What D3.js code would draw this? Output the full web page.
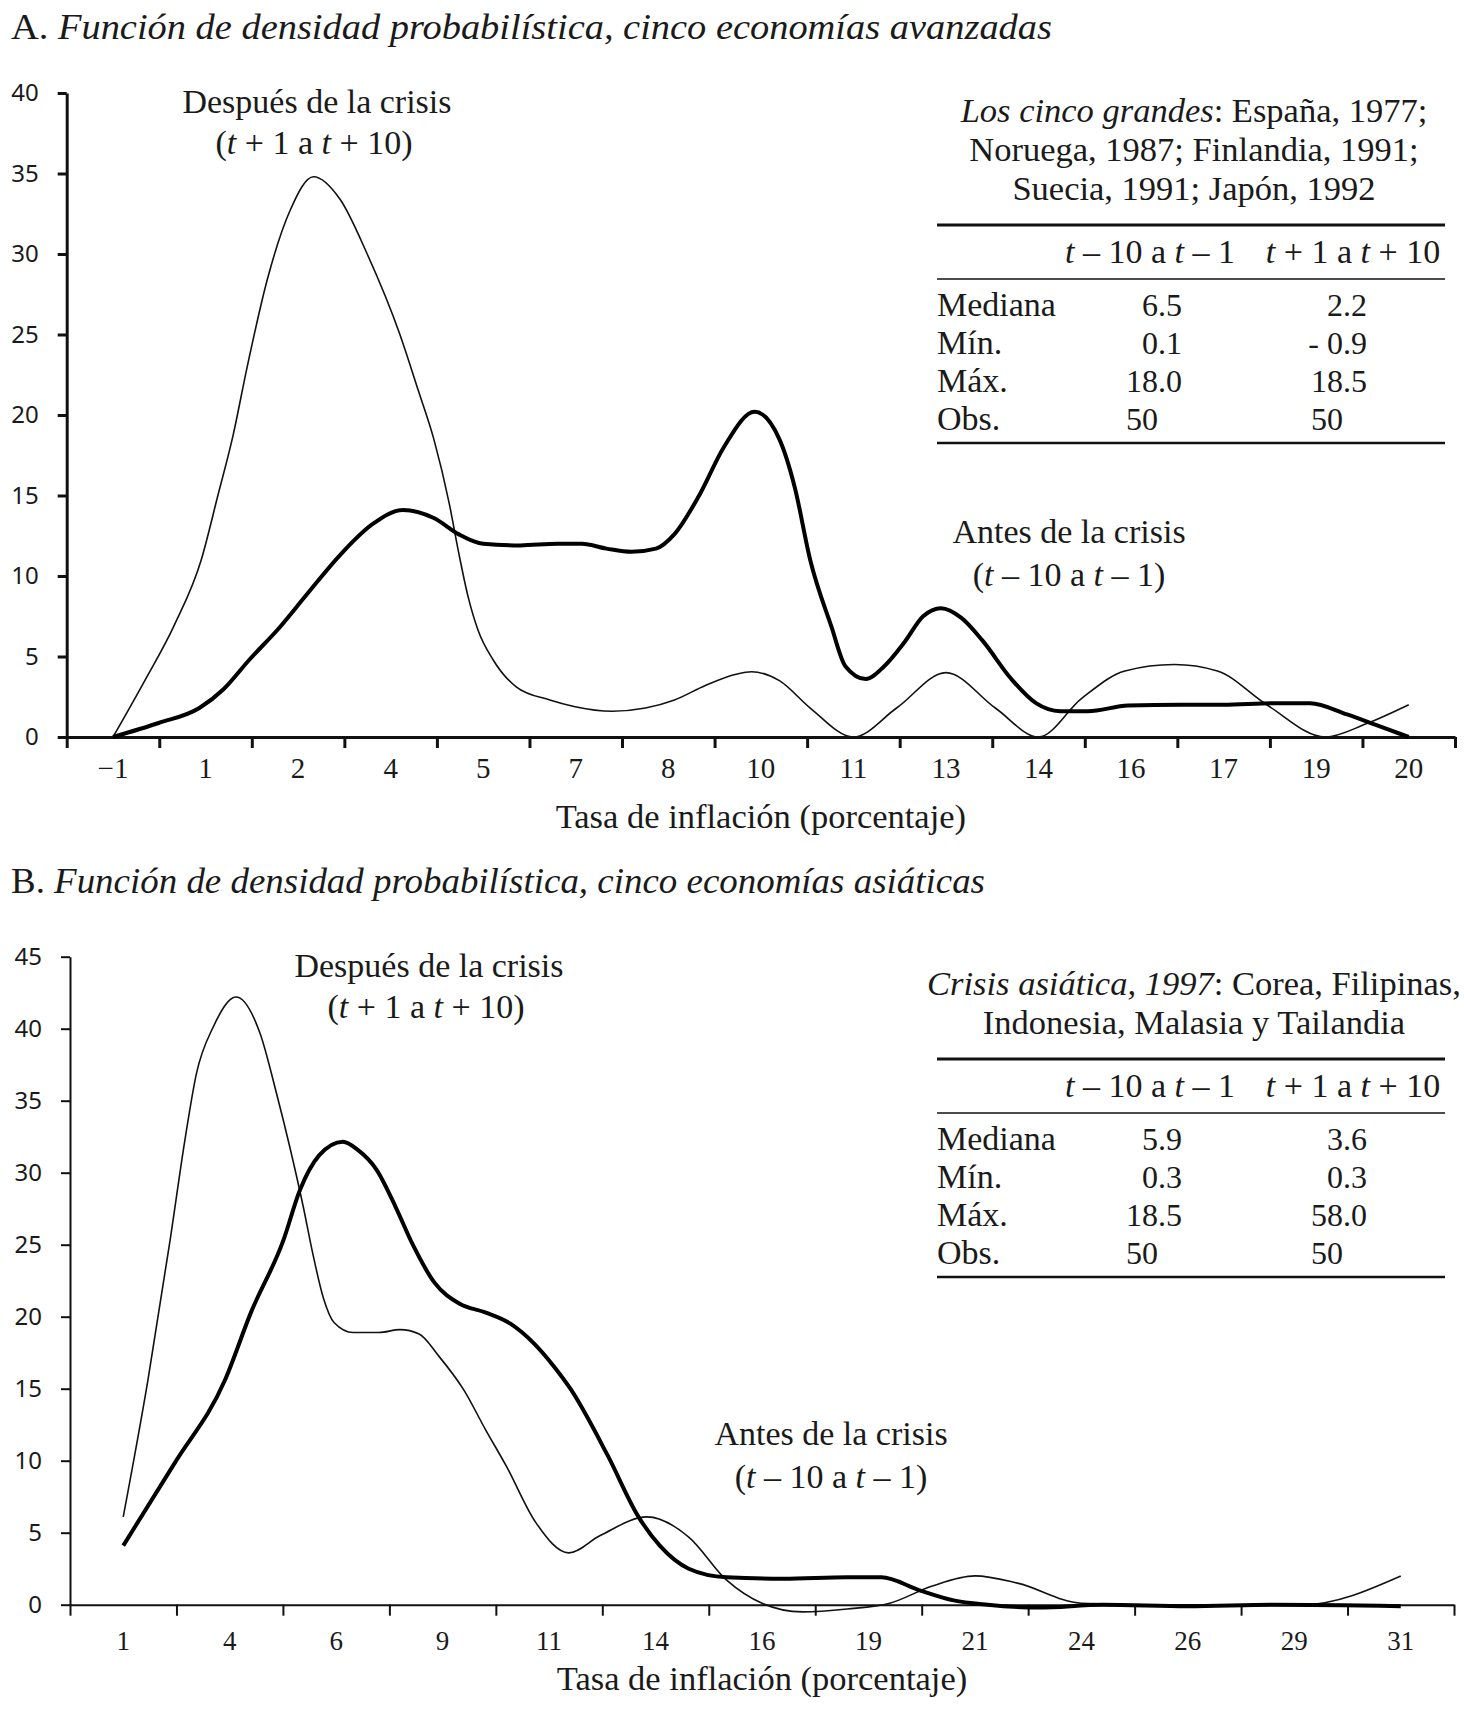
<!DOCTYPE html>
<html>
<head>
<meta charset="utf-8">
<script src="https://cdn.jsdelivr.net/npm/d3@7"></script>
<style>
  body { margin: 0; background: #fff; }
  svg text { font-family: "Liberation Serif", "DejaVu Serif", serif; fill: #1a1a1a; }
</style>
</head>
<body>
<div id="chart"></div>
<script>

// ---------------- data ----------------

// panel A: five advanced economies
let catsA = ["\u22121", "1", "2", "4", "5", "7", "8", "10", "11", "13", "14", "16", "17", "19", "20"];

// before the crisis (t-10 to t-1), thick line  [inflation, density]
let beforeA = [[-1, 0], [-0.26, 0.87], [0.4, 1.8], [0.8, 3.0], [1.21, 4.8], [1.7, 6.8], [2.13, 8.8],
	[2.68, 11.3], [3.2, 13.2], [3.7, 14.1], [4.2, 13.6], [4.6, 12.6], [5.0, 12.0], [5.6, 11.9],
	[6.2, 12.0], [6.6, 12.0], [7.0, 11.7], [7.4, 11.5], [7.8, 11.7], [8.1, 12.6], [8.5, 15.0],
	[8.9, 18.0], [9.4, 20.2], [9.8, 18.5], [10.05, 15.5], [10.3, 11.0], [10.64, 6.9], [10.87, 4.4],
	[11.2, 3.6], [11.5, 4.4], [11.83, 5.9], [12.13, 7.5], [12.42, 8.0], [12.75, 7.4], [13.09, 6.0],
	[13.56, 3.6], [13.96, 2.1], [14.35, 1.6], [14.8, 1.6], [15.45, 1.95], [16.3, 2.0], [17.0, 2.0],
	[17.8, 2.1], [18.4, 2.1], [19.0, 1.4], [19.5, 0.7], [20, 0]];

// after the crisis (t+1 to t+10), thin line
let afterA = [[-1, 0], [-0.5, 3.4], [0, 7.0], [0.43, 11.0], [0.7, 15.0], [0.95, 18.8], [1.17, 22.9],
	[1.5, 28.4], [1.87, 32.7], [2.25, 34.8], [2.68, 33.4], [3.12, 30.0], [3.65, 25.0], [3.95, 21.5],
	[4.2, 18.5], [4.45, 14.5], [4.6, 11.5], [4.75, 8.8], [4.92, 6.6], [5.16, 4.8], [5.54, 3.1],
	[6.08, 2.3], [6.47, 1.9], [7.09, 1.6], [7.63, 1.8], [8.1, 2.3], [8.6, 3.2], [9.1, 3.9],
	[9.35, 4.05], [9.8, 3.5], [10.3, 1.8], [11.0, 0], [11.7, 1.8], [12.5, 4.0], [13.3, 1.8],
	[14.0, 0], [14.7, 2.4], [15.4, 4.1], [16.2, 4.5], [16.9, 4.1], [17.7, 2.0], [18.65, 0],
	[19.3, 0.8], [20, 2.0]];

// panel B: five asian economies
let catsB = ["1", "4", "6", "9", "11", "14", "16", "19", "21", "24", "26", "29", "31"];

let beforeB = [[1, 4.1], [2.2, 9.8], [3.39, 15.6], [4.0, 20.3], [4.76, 25.3], [5.15, 28.8],
	[5.6, 31.2], [6.16, 32.15], [6.5, 31.6], [6.95, 30.2], [7.4, 27.6], [7.8, 25.0], [8.3, 22.4],
	[8.9, 20.9], [9.5, 20.3], [10.1, 19.5], [10.66, 18.1], [11.1, 16.6], [11.5, 15.0],
	[12.37, 10.4], [13.1, 6.1], [13.6, 4.1], [14.28, 2.5], [15.17, 1.9], [16.5, 1.8], [18.0, 1.9],
	[18.8, 1.9], [19.7, 1.0], [20.5, 0.3], [21.3, 0], [22.5, -0.2], [24, 0], [26, -0.1],
	[28, 0], [31, -0.1]];

let afterB = [[1, 6.1], [1.58, 15.6], [2.1, 25.3], [2.45, 32.3], [2.72, 36.9], [3.11, 40.1],
	[3.65, 42.2], [4.21, 39.7], [4.6, 35.5], [4.91, 31.8], [5.23, 27.6], [5.45, 24.4], [5.7, 21.3],
	[5.95, 19.6], [6.4, 18.9], [7.0, 18.9], [7.5, 19.1], [7.95, 18.8], [8.4, 17.3], [9.0, 14.9],
	[9.5, 12.2], [10.0, 9.6], [10.69, 5.7], [11.46, 3.6], [12.2, 4.8], [13.3, 6.1], [14.28, 4.7],
	[15.17, 1.7], [16.0, 0.1], [16.95, -0.5], [18.0, -0.3], [19.0, 0.1], [20.0, 1.3], [21.0, 2.0],
	[22.0, 1.5], [23.5, 0.1], [25, 0], [27, 0], [28.7, 0], [31, 2.0]];

// summary tables
let statRows = ["Mediana", "Mín.", "Máx.", "Obs."];
let statsBeforeA = ["6.5", "0.1", "18.0", "50"];
let statsAfterA = ["2.2", "- 0.9", "18.5", "50"];
let statsBeforeB = ["5.9", "0.3", "18.5", "50"];
let statsAfterB = ["3.6", "0.3", "58.0", "50"];


// ---------------- setup ----------------

let svg = d3.select("#chart").append("svg")
	.attr("width", 1464)
	.attr("height", 1715);

svg.append("rect").attr("width", 1464).attr("height", 1715).attr("fill", "#fff");

// text made of roman / italic pieces
function rich(g, x, y, parts, size, anchor) {
	let t = g.append("text")
		.attr("x", x).attr("y", y)
		.attr("font-size", size)
		.attr("text-anchor", anchor || "middle");
	parts.forEach(p => {
		t.append("tspan")
			.attr("font-style", p[1] ? "italic" : "normal")
			.text(p[0]);
	});
	return t;
}

let tAfter = [["(", 0], ["t", 1], [" + 1 a ", 0], ["t", 1], [" + 10)", 0]];
let tBefore = [["(", 0], ["t", 1], [" \u2013 10 a ", 0], ["t", 1], [" \u2013 1)", 0]];


function drawPanel(p) {

	let g = svg.append("g");

	let x = d3.scaleBand().domain(p.cats).range([p.left, p.right]);
	let xi = d3.scaleLinear().domain([0, p.cats.length]).range([p.left, p.right]);
	let half = x.bandwidth() / 2;
	let xv = d3.scaleLinear()
		.domain([p.vMin, p.vMax])
		.range([x(p.cats[0]) + half, x(p.cats[p.cats.length - 1]) + half]);
	let y = d3.scaleLinear().domain([0, p.yMax]).range([p.bottom, p.top]);

	// title
	rich(g, 11, p.titleY, [[p.titleLetter + " ", 0], [p.title, 1]], 35, "start")
		.attr("textLength", p.titleW)
		.attr("lengthAdjust", "spacingAndGlyphs");

	// x axis: ticks between categories
	let gx = g.append("g")
		.attr("transform", "translate(0," + p.bottom + ")")
		.call(d3.axisBottom(xi)
			.tickValues(d3.range(p.cats.length + 1))
			.tickFormat("")
			.tickSize(11)
			.tickSizeOuter(0));
	gx.selectAll("path, line").attr("stroke", "#111").attr("stroke-width", p.axisW);

	g.selectAll(".catLab")
		.data(p.cats)
		.join("text")
		.attr("class", "catLab")
		.attr("x", d => x(d) + half)
		.attr("y", p.bottom + p.catDy)
		.attr("text-anchor", "middle")
		.attr("font-size", p.catSize)
		.text(d => d);

	// y axis
	let gy = g.append("g")
		.attr("transform", "translate(" + p.left + ",0)")
		.call(d3.axisLeft(y)
			.tickValues(d3.range(0, p.yMax + 1, 5))
			.tickSize(9)
			.tickSizeOuter(0)
			.tickPadding(19));
	gy.selectAll("path, line").attr("stroke", "#111").attr("stroke-width", p.axisW);
	gy.selectAll("text")
		.style("font-family", "'Noto Sans', sans-serif")
		.attr("font-size", 24)
		.attr("fill", "#1a1a1a");

	g.append("text")
		.attr("x", (p.left + p.right) / 2)
		.attr("y", p.xTitleY)
		.attr("text-anchor", "middle")
		.attr("font-size", 34.5)
		.text("Tasa de inflación (porcentaje)");

	// density curves
	let line = d3.line()
		.x(d => xv(d[0]))
		.y(d => y(d[1]))
		.curve(d3.curveMonotoneX);

	g.append("path")
		.datum(p.after)
		.attr("d", line)
		.attr("fill", "none")
		.attr("stroke", "#111")
		.attr("stroke-width", 1.6);

	g.append("path")
		.datum(p.before)
		.attr("d", line)
		.attr("fill", "none")
		.attr("stroke", "#000")
		.attr("stroke-width", 4);

	// curve labels
	rich(g, p.afterLab[0], p.afterLab[1], [["Después de la crisis", 0]], 34);
	rich(g, p.afterLab[0] - 3, p.afterLab[1] + 41, tAfter, 34);
	rich(g, p.beforeLab[0], p.beforeLab[1], [["Antes de la crisis", 0]], 34);
	rich(g, p.beforeLab[0], p.beforeLab[1] + 43, tBefore, 34);

	// summary table
	let tb = g.append("g");
	p.caption.forEach((parts, i) => {
		rich(tb, 1194, p.tableTop + i * 39, parts, 34.5);
	});
	let r1 = p.tableTop + (p.caption.length - 1) * 39 + 25;
	let tl = 937, tr = 1445;
	tb.append("line").attr("x1", tl).attr("x2", tr).attr("y1", r1).attr("y2", r1)
		.attr("stroke", "#111").attr("stroke-width", 3);
	rich(tb, 1150, r1 + 38, [["t", 1], [" \u2013 10 a ", 0], ["t", 1], [" \u2013 1", 0]], 34);
	rich(tb, 1353, r1 + 38, [["t", 1], [" + 1 a ", 0], ["t", 1], [" + 10", 0]], 34);
	tb.append("line").attr("x1", tl).attr("x2", tr).attr("y1", r1 + 54).attr("y2", r1 + 54)
		.attr("stroke", "#111").attr("stroke-width", 1.3);

	let rowY = i => r1 + 91 + i * 38;
	tb.selectAll(".rowLab")
		.data(statRows)
		.join("text")
		.attr("x", tl)
		.attr("y", (d, i) => rowY(i))
		.attr("font-size", 34)
		.text(d => d);

	// numbers aligned on the decimal point
	[[p.statsBefore, 1158], [p.statsAfter, 1343]].forEach(col => {
		col[0].forEach((v, i) => {
			let parts = v.split(".");
			tb.append("text")
				.attr("x", col[1]).attr("y", rowY(i))
				.attr("text-anchor", "end")
				.attr("font-size", 32)
				.text(parts[0]);
			if (parts.length > 1) {
				tb.append("text")
					.attr("x", col[1]).attr("y", rowY(i))
					.attr("font-size", 32)
					.text("." + parts[1]);
			}
		});
	});
	let rb = rowY(3) + 13;
	tb.append("line").attr("x1", tl).attr("x2", tr).attr("y1", rb).attr("y2", rb)
		.attr("stroke", "#111").attr("stroke-width", 2.5);
}


drawPanel({
	titleLetter: "A.", title: "Función de densidad probabilística, cinco economías avanzadas",
	titleY: 39, titleW: 1041,
	cats: catsA, vMin: -1, vMax: 20, yMax: 40,
	left: 66.7, right: 1455, top: 93, bottom: 737, axisW: 3,
	catDy: 41, catSize: 29, xTitleY: 828,
	before: beforeA, after: afterA,
	afterLab: [317, 113], beforeLab: [1069, 543],
	tableTop: 122,
	caption: [
		[["Los cinco grandes", 1], [": España, 1977;", 0]],
		[["Noruega, 1987; Finlandia, 1991;", 0]],
		[["Suecia, 1991; Japón, 1992", 0]]
	],
	statsBefore: statsBeforeA, statsAfter: statsAfterA
});

drawPanel({
	titleLetter: "B.", title: "Función de densidad probabilística, cinco economías asiáticas",
	titleY: 893, titleW: 974,
	cats: catsB, vMin: 1, vMax: 31, yMax: 45,
	left: 70, right: 1454, top: 956.7, bottom: 1604.7, axisW: 2,
	catDy: 45, catSize: 27, xTitleY: 1690,
	before: beforeB, after: afterB,
	afterLab: [429, 977], beforeLab: [831, 1445],
	tableTop: 995,
	caption: [
		[["Crisis asiática, 1997", 1], [": Corea, Filipinas,", 0]],
		[["Indonesia, Malasia y Tailandia", 0]]
	],
	statsBefore: statsBeforeB, statsAfter: statsAfterB
});

</script>
</body>
</html>
